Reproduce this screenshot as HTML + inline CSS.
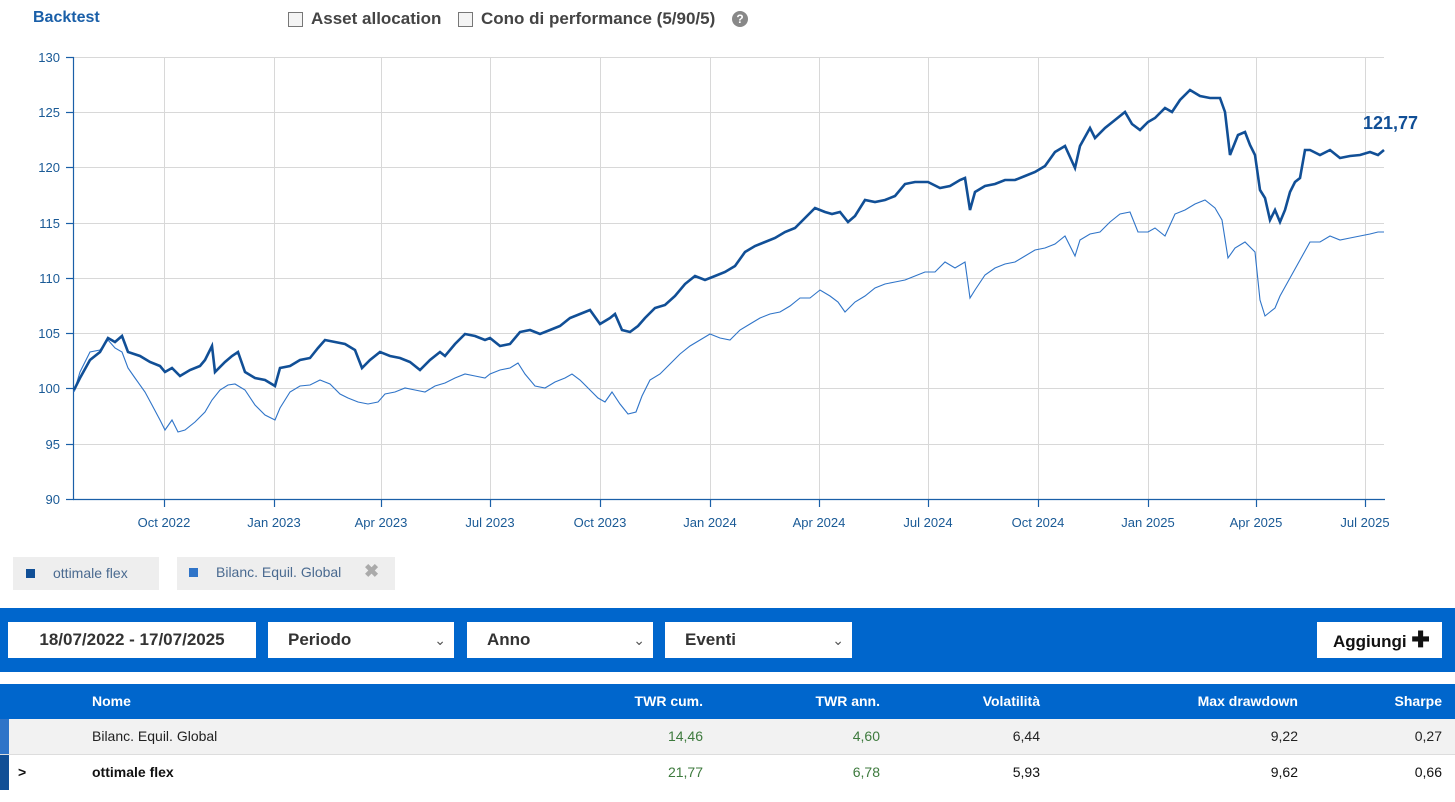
<!DOCTYPE html>
<html><head><meta charset="utf-8"><style>
body{margin:0;width:1455px;height:802px;background:#fff;font-family:"Liberation Sans",sans-serif;position:relative;overflow:hidden}
.a{position:absolute}
.t{font-size:13px;fill:#1a5a96}
.box{position:absolute;top:622px;height:36px;background:#fff;font-size:17px;font-weight:bold;color:#333;line-height:36px;box-sizing:border-box;padding-left:20px}
.chev{position:absolute;right:8px;top:0;font-weight:normal;font-size:14px;color:#555}
.row{position:absolute;left:0;width:1455px;height:35px;font-size:14px;line-height:35px}
.c{position:absolute;text-align:right}
</style></head><body>
<div class="a" style="left:33px;top:9px;font-size:16px;font-weight:bold;color:#1a5fa8">Backtest</div>
<div class="a" style="left:288px;top:12px;width:13px;height:13px;border:1px solid #777;background:#f4f4f4"></div>
<div class="a" style="left:311px;top:9px;font-size:17px;font-weight:bold;color:#444">Asset allocation</div>
<div class="a" style="left:458px;top:12px;width:13px;height:13px;border:1px solid #777;background:#f4f4f4"></div>
<div class="a" style="left:481px;top:9px;font-size:17px;font-weight:bold;color:#444">Cono di performance (5/90/5)</div>
<div class="a" style="left:732px;top:11px;width:16px;height:16px;border-radius:50%;background:#888;color:#fff;font-size:12px;font-weight:bold;text-align:center;line-height:16px">?</div>
<svg class="a" style="left:0;top:0" width="1455" height="545">
<g stroke="#d8d8d8" stroke-width="1">
<line x1="74" x2="1384" y1="57.5" y2="57.5"/><line x1="74" x2="1384" y1="112.5" y2="112.5"/><line x1="74" x2="1384" y1="167.5" y2="167.5"/><line x1="74" x2="1384" y1="223.5" y2="223.5"/><line x1="74" x2="1384" y1="278.5" y2="278.5"/><line x1="74" x2="1384" y1="333.5" y2="333.5"/><line x1="74" x2="1384" y1="388.5" y2="388.5"/><line x1="74" x2="1384" y1="444.5" y2="444.5"/>
<line x1="164.5" x2="164.5" y1="57" y2="499"/><line x1="274.5" x2="274.5" y1="57" y2="499"/><line x1="381.5" x2="381.5" y1="57" y2="499"/><line x1="490.5" x2="490.5" y1="57" y2="499"/><line x1="600.5" x2="600.5" y1="57" y2="499"/><line x1="710.5" x2="710.5" y1="57" y2="499"/><line x1="819.5" x2="819.5" y1="57" y2="499"/><line x1="928.5" x2="928.5" y1="57" y2="499"/><line x1="1038.5" x2="1038.5" y1="57" y2="499"/><line x1="1148.5" x2="1148.5" y1="57" y2="499"/><line x1="1256.5" x2="1256.5" y1="57" y2="499"/><line x1="1365.5" x2="1365.5" y1="57" y2="499"/>
</g>
<g stroke="#1a5fa8" stroke-width="1.2">
<line x1="73.5" x2="73.5" y1="57" y2="500"/><line x1="73" x2="1385" y1="499.5" y2="499.5"/>
<line x1="66" x2="74" y1="57.5" y2="57.5"/><line x1="66" x2="74" y1="112.5" y2="112.5"/><line x1="66" x2="74" y1="167.5" y2="167.5"/><line x1="66" x2="74" y1="223.5" y2="223.5"/><line x1="66" x2="74" y1="278.5" y2="278.5"/><line x1="66" x2="74" y1="333.5" y2="333.5"/><line x1="66" x2="74" y1="388.5" y2="388.5"/><line x1="66" x2="74" y1="444.5" y2="444.5"/><line x1="66" x2="74" y1="499.5" y2="499.5"/>
<line x1="164.5" x2="164.5" y1="499" y2="507"/><line x1="274.5" x2="274.5" y1="499" y2="507"/><line x1="381.5" x2="381.5" y1="499" y2="507"/><line x1="490.5" x2="490.5" y1="499" y2="507"/><line x1="600.5" x2="600.5" y1="499" y2="507"/><line x1="710.5" x2="710.5" y1="499" y2="507"/><line x1="819.5" x2="819.5" y1="499" y2="507"/><line x1="928.5" x2="928.5" y1="499" y2="507"/><line x1="1038.5" x2="1038.5" y1="499" y2="507"/><line x1="1148.5" x2="1148.5" y1="499" y2="507"/><line x1="1256.5" x2="1256.5" y1="499" y2="507"/><line x1="1365.5" x2="1365.5" y1="499" y2="507"/>
</g>
<g class="t" text-anchor="end"><text x="60" y="62">130</text><text x="60" y="117">125</text><text x="60" y="172">120</text><text x="60" y="228">115</text><text x="60" y="283">110</text><text x="60" y="338">105</text><text x="60" y="393">100</text><text x="60" y="449">95</text><text x="60" y="504">90</text></g>
<g class="t" text-anchor="middle"><text x="164" y="527">Oct 2022</text><text x="274" y="527">Jan 2023</text><text x="381" y="527">Apr 2023</text><text x="490" y="527">Jul 2023</text><text x="600" y="527">Oct 2023</text><text x="710" y="527">Jan 2024</text><text x="819" y="527">Apr 2024</text><text x="928" y="527">Jul 2024</text><text x="1038" y="527">Oct 2024</text><text x="1148" y="527">Jan 2025</text><text x="1256" y="527">Apr 2025</text><text x="1365" y="527">Jul 2025</text></g>
<polyline fill="none" stroke="#2f74c8" stroke-width="1.1" points="74,392 80,372 90,352 100,350 108,340 115,348 122,352 128,368 135,378 145,392 152,405 160,420 165,430 172,420 178,432 185,430 195,422 205,412 212,400 220,390 228,385 235,384 245,390 255,405 265,415 275,420 280,408 290,392 300,386 310,385 320,380 330,384 340,394 348,398 358,402 368,404 378,402 385,394 395,392 405,388 415,390 425,392 435,386 445,383 455,378 465,374 475,376 485,378 490,374 500,370 510,368 518,363 525,374 535,386 545,388 555,382 565,378 572,374 580,380 590,390 598,398 605,402 612,392 620,404 628,414 636,412 642,396 650,380 660,374 670,364 680,354 690,346 700,340 710,334 720,338 730,340 740,330 750,324 760,318 770,314 780,312 790,306 800,298 810,298 820,290 830,296 838,302 845,312 855,302 865,296 875,288 885,284 895,282 905,280 915,276 925,272 935,272 945,262 955,268 965,262 970,298 975,290 985,275 995,268 1005,264 1015,262 1025,256 1035,250 1045,248 1055,244 1065,236 1075,256 1080,240 1090,234 1100,232 1110,222 1120,214 1130,212 1138,232 1148,232 1155,228 1165,236 1175,214 1185,210 1195,204 1205,200 1215,208 1222,220 1228,258 1235,248 1245,242 1255,252 1260,300 1265,316 1270,312 1275,308 1280,296 1290,278 1300,260 1310,242 1320,242 1330,236 1340,240 1350,238 1360,236 1370,234 1378,232 1384,232"/>
<polyline fill="none" stroke="#114f96" stroke-width="2.6" points="74,390 80,378 90,360 100,352 108,338 115,342 122,336 128,352 140,356 150,362 160,366 165,372 172,368 180,376 190,370 200,366 205,360 212,346 215,372 225,362 232,356 238,352 245,372 255,378 265,380 275,386 280,368 290,366 300,360 310,358 318,348 325,340 335,342 345,344 355,350 362,368 370,360 380,352 390,356 400,358 410,362 420,370 430,360 440,352 445,356 455,344 465,334 475,336 485,340 490,338 500,346 510,344 520,332 530,330 540,334 550,330 560,326 570,318 580,314 590,310 600,324 610,318 615,314 622,330 630,332 638,326 645,318 655,308 665,305 675,296 685,284 695,276 705,280 715,276 725,272 735,266 745,252 755,246 765,242 775,238 785,232 795,228 805,218 815,208 825,212 832,214 840,212 848,222 855,216 865,200 875,202 885,200 895,196 905,184 915,182 928,182 940,188 950,186 960,180 965,178 970,210 975,192 985,186 995,184 1005,180 1015,180 1025,176 1035,172 1045,166 1055,152 1065,146 1075,168 1080,146 1090,128 1095,138 1105,128 1115,120 1125,112 1132,124 1140,130 1148,122 1155,118 1165,108 1172,112 1180,100 1190,90 1200,96 1210,98 1220,98 1225,112 1230,155 1238,135 1245,132 1250,145 1255,155 1260,190 1265,198 1270,220 1275,210 1280,222 1285,210 1290,192 1295,182 1300,178 1305,150 1310,150 1320,155 1330,150 1340,158 1350,156 1360,155 1370,152 1378,155 1384,150"/>
<text x="1418" y="129" text-anchor="end" font-size="18" font-weight="bold" fill="#114f96">121,77</text>
</svg>
<div class="a" style="left:13px;top:557px;width:146px;height:33px;background:#eee"></div>
<div class="a" style="left:26px;top:569px;width:9px;height:9px;background:#114f96"></div>
<div class="a" style="left:53px;top:565px;font-size:14px;color:#4a6a90">ottimale flex</div>
<div class="a" style="left:177px;top:557px;width:218px;height:33px;background:#eee"></div>
<div class="a" style="left:189px;top:568px;width:9px;height:9px;background:#2f74c8"></div>
<div class="a" style="left:216px;top:564px;font-size:14px;color:#4a6a90">Bilanc. Equil. Global</div>
<div class="a" style="left:364px;top:561px;font-size:18px;font-weight:bold;color:#aaa">✖</div>
<div class="a" style="left:0;top:608px;width:1455px;height:64px;background:#0066cc"></div>
<div class="box" style="left:8px;width:248px;text-align:center;padding:0">18/07/2022 - 17/07/2025</div>
<div class="box" style="left:268px;width:186px">Periodo<span class="chev">&#8964;</span></div>
<div class="box" style="left:467px;width:186px">Anno<span class="chev">&#8964;</span></div>
<div class="box" style="left:665px;width:187px">Eventi<span class="chev">&#8964;</span></div>
<div class="box" style="left:1317px;width:125px;padding-left:16px;color:#111">Aggiungi <span style="font-size:22px">✚</span></div>
<div class="row" style="top:684px;background:#0066cc;color:#fff;font-weight:bold;font-size:14px">
<span class="a" style="left:92px">Nome</span><span class="c" style="right:752px">TWR cum.</span><span class="c" style="right:575px">TWR ann.</span><span class="c" style="right:415px">Volatilità</span><span class="c" style="right:157px">Max drawdown</span><span class="c" style="right:13px">Sharpe</span></div>
<div class="row" style="top:719px;background:#f2f2f2;border-bottom:1px solid #ddd;color:#222">
<span class="a" style="left:0;top:0;width:9px;height:35px;background:#2f74c8"></span>
<span class="a" style="left:92px">Bilanc. Equil. Global</span><span class="c" style="right:752px;color:#3d7a3d">14,46</span><span class="c" style="right:575px;color:#3d7a3d">4,60</span><span class="c" style="right:415px">6,44</span><span class="c" style="right:157px">9,22</span><span class="c" style="right:13px">0,27</span></div>
<div class="row" style="top:755px;color:#111">
<span class="a" style="left:0;top:0;width:9px;height:35px;background:#114f96"></span>
<span class="a" style="left:18px;font-weight:bold">&gt;</span>
<span class="a" style="left:92px;font-weight:bold">ottimale flex</span><span class="c" style="right:752px;color:#3d7a3d">21,77</span><span class="c" style="right:575px;color:#3d7a3d">6,78</span><span class="c" style="right:415px">5,93</span><span class="c" style="right:157px">9,62</span><span class="c" style="right:13px">0,66</span></div>
</body></html>
